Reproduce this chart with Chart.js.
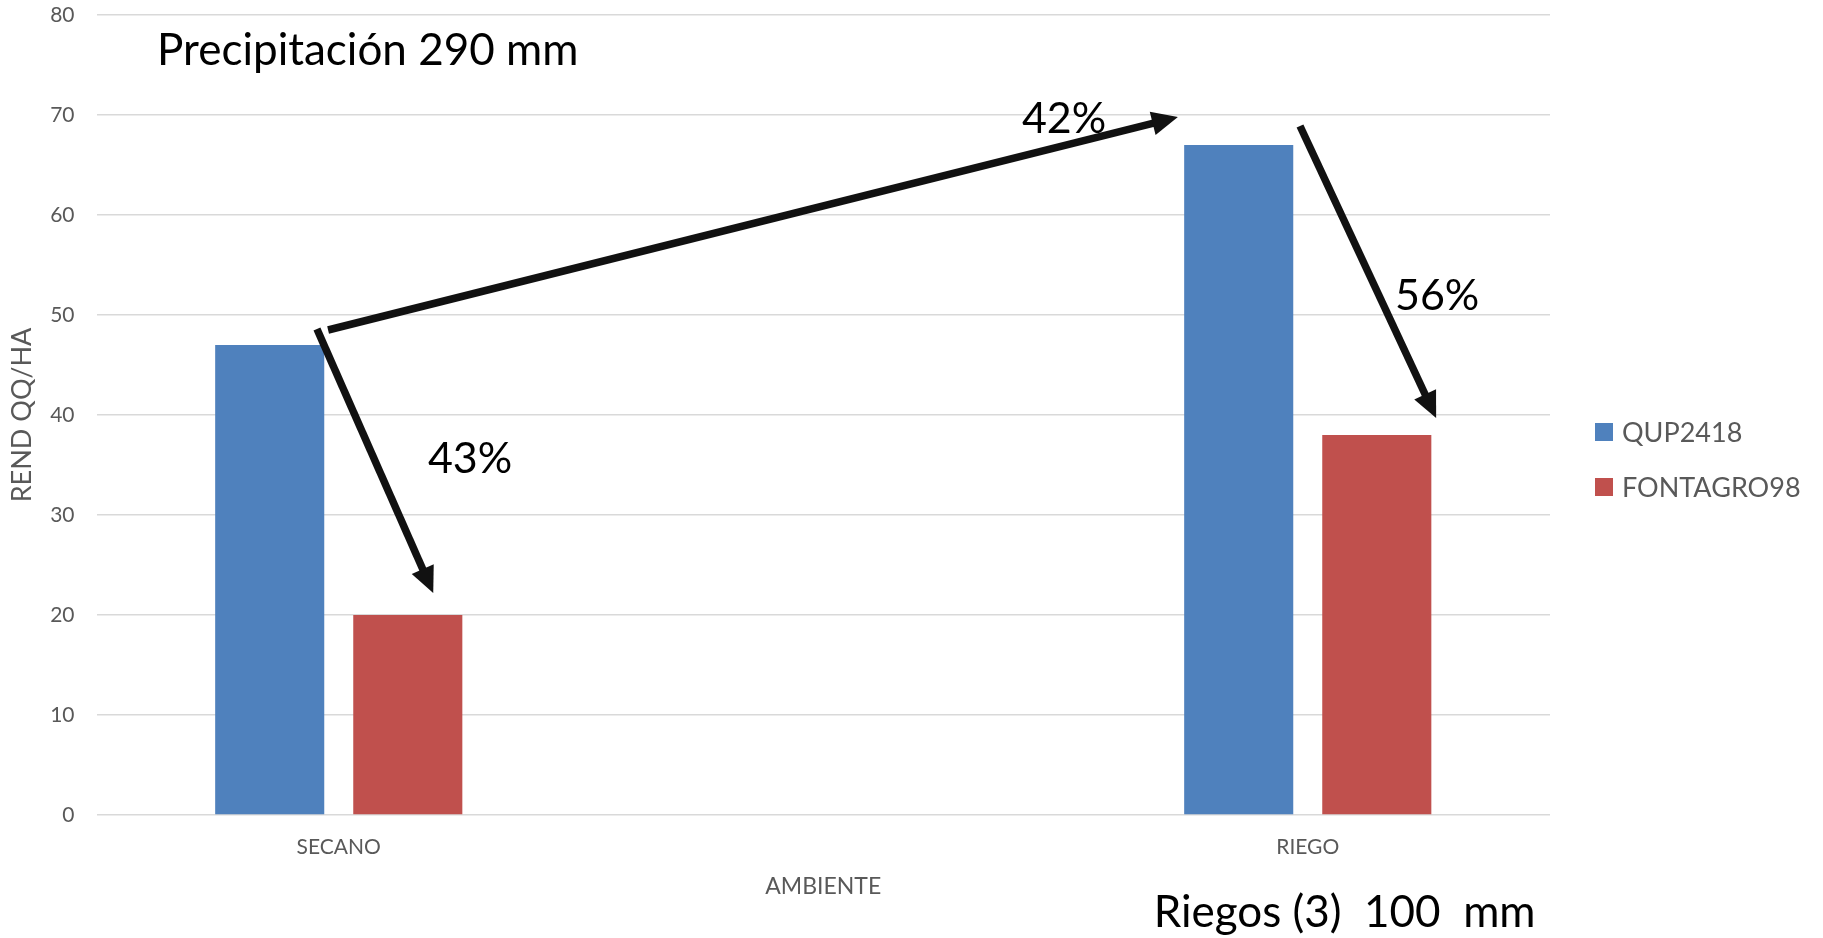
<!DOCTYPE html>
<html>
<head>
<meta charset="utf-8">
<script src="https://cdn.jsdelivr.net/npm/chart.js@4.4.1/dist/chart.umd.min.js"></script>
<style>
  html, body { margin: 0; padding: 0; background: #ffffff; }
  #wrap { width: 1823px; height: 938px; position: relative; }
</style>
</head>
<body>
<div id="wrap"><canvas id="chart" width="1823" height="938"></canvas></div>
<script>
// ---- data ----
const categories = ['SECANO', '', 'RIEGO'];
const seriesNames = ['QUP2418', 'FONTAGRO98'];
const qup2418 = [47, null, 67];
const fontagro98 = [20, null, 38];
const yMin = 0, yMax = 80, yStep = 10;
const yAxisTitle = 'REND QQ/HA';
const xAxisTitle = 'AMBIENTE';

// ---- annotations (category index, value) ----
const arrows = [
  { from: [-0.045, 48.6], to: [0.195, 22.2] },
  { from: [-0.022, 48.5], to: [1.732, 69.8] },
  { from: [1.984, 68.9], to: [2.265, 39.7] }
];
const notes = [
  { text: '43%', at: [0.184, 34.2], size: 43 },
  { text: '42%', at: [1.410, 68.2], size: 43 },
  { text: '56%', at: [2.180, 50.5], size: 43 },
  { text: 'Precipitación 290 mm', at: [-0.375, 75.0], size: 44 },
  { text: 'Riegos (3)  100  mm', at: [1.682, -11.2], size: 44 }
];

const colors = ['#4F81BD', '#C0504D'];
const FONT = 'Lato, "Open Sans", sans-serif';
const GREY = '#595959';

const overlay = {
  id: 'overlay',
  afterDatasetsDraw(chart) {
    const { ctx, scales: { x, y } } = chart;
    ctx.save();
    ctx.strokeStyle = '#111111';
    ctx.fillStyle = '#111111';
    ctx.lineWidth = 7.5;
    ctx.lineCap = 'butt';
    for (const a of arrows) {
      const x0 = x.getPixelForValue(a.from[0]), y0 = y.getPixelForValue(a.from[1]);
      const x1 = x.getPixelForValue(a.to[0]), y1 = y.getPixelForValue(a.to[1]);
      const ang = Math.atan2(y1 - y0, x1 - x0);
      const head = 26, half = 12;
      const c = Math.cos(ang), s = Math.sin(ang);
      const bx = x1 - head * c, by = y1 - head * s;
      ctx.beginPath();
      ctx.moveTo(x0, y0);
      ctx.lineTo(bx + 2 * c, by + 2 * s);
      ctx.stroke();
      ctx.beginPath();
      ctx.moveTo(x1, y1);
      ctx.lineTo(bx + half * s, by - half * c);
      ctx.lineTo(bx - half * s, by + half * c);
      ctx.closePath();
      ctx.fill();
    }
    ctx.fillStyle = '#000000';
    ctx.textAlign = 'left';
    ctx.textBaseline = 'alphabetic';
    for (const n of notes) {
      ctx.font = n.size + 'px ' + FONT;
      ctx.fillText(n.text, x.getPixelForValue(n.at[0]), y.getPixelForValue(n.at[1]));
    }
    ctx.restore();
  },
  afterDraw(chart) {
    // legend at the right of the plot
    const { ctx, chartArea } = chart;
    ctx.save();
    ctx.font = '27px ' + FONT;
    ctx.textBaseline = 'middle';
    ctx.textAlign = 'left';
    chart.data.datasets.forEach((ds, i) => {
      const cy = chart.height / 2 - 37 + i * 55;
      const bx = chartArea.right + 45;
      ctx.fillStyle = ds.backgroundColor;
      ctx.fillRect(bx, cy - 9, 18, 18);
      ctx.fillStyle = GREY;
      ctx.fillText(ds.label, bx + 27, cy + 1);
    });
    ctx.restore();
  }
};

new Chart(document.getElementById('chart'), {
  type: 'bar',
  data: {
    labels: categories,
    datasets: [
      { label: seriesNames[0], data: qup2418, backgroundColor: colors[0] },
      { label: seriesNames[1], data: fontagro98, backgroundColor: colors[1] }
    ]
  },
  options: {
    responsive: false,
    animation: false,
    devicePixelRatio: 1,
    categoryPercentage: 0.57,
    barPercentage: 0.79,
    layout: { padding: { top: 15, right: 273, bottom: 0, left: 0 } },
    plugins: { legend: { display: false }, tooltip: { enabled: false } },
    scales: {
      x: {
        grid: { display: false },
        border: { display: false },
        ticks: { color: GREY, font: { family: FONT, size: 21 }, padding: 12, maxRotation: 0, autoSkip: false },
        title: { display: true, text: xAxisTitle, color: GREY, font: { family: FONT, size: 23 }, padding: { top: 0, bottom: 38 } },
        afterFit(scale) { scale.height = 123; scale.paddingLeft = 0; scale.paddingRight = 0; }
      },
      y: {
        min: yMin, max: yMax,
        grid: { color: '#d9d9d9', lineWidth: 1.5, drawTicks: false },
        border: { display: false },
        ticks: { stepSize: yStep, color: GREY, font: { family: FONT, size: 21 }, padding: 22 },
        title: { display: true, text: yAxisTitle, color: GREY, font: { family: FONT, size: 27 }, padding: { top: 6, bottom: 0 } },
        afterFit(scale) { scale.width = 96.5; scale.paddingTop = 0; scale.paddingBottom = 0; }
      }
    }
  },
  plugins: [overlay]
});
</script>
</body>
</html>
